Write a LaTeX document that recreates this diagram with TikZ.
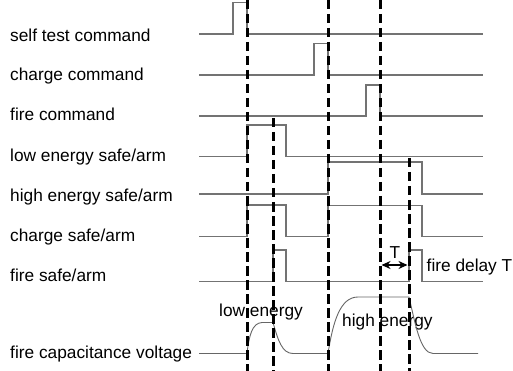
\documentclass[tikz,border=0pt]{standalone}
\usepackage{fontspec}
\setmainfont{Liberation Sans}
\usetikzlibrary{arrows.meta}
\begin{document}
\begin{tikzpicture}[x=1pt,y=-1pt,
  sig/.style={draw=black!55, line width=1.1pt},
  volt/.style={draw=black!60, line width=0.9pt},
  guide/.style={draw=black, line width=3pt, dash pattern=on 9.5pt off 4.5pt},
  lbl/.style={anchor=base west, inner sep=0pt, font=\fontsize{17.3}{20}\selectfont},
  tarrow/.style={{Stealth[length=9pt,width=8pt]}-{Stealth[length=9pt,width=8pt]}, line width=1.5pt}
  ]
\useasboundingbox (0,0) rectangle (513,371);

% left labels
\node[lbl] (l1) at (10,41.5) {self test command};
\node[lbl] (l2) at (10,80.5) {charge command};
\node[lbl] (l3) at (10,120.5) {fire command};
\node[lbl] (l4) at (10,161.5) {low energy safe/arm};
\node[lbl] (l5) at (10,201.5) {high energy safe/arm};
\node[lbl] (l6) at (10,241.5) {charge safe/arm};
\node[lbl] (l7) at (10,281) {fire safe/arm};
\node[lbl] (l8) at (10,358.5) {fire capacitance voltage};

% inner labels
\node[lbl] (low) at (219,316) {low energy};
\node[lbl] (high) at (342,326) {high energy};
\node[lbl] (delay) at (426.5,271.5) {fire delay T};

% signals
\draw[sig] (199,34) -- (233,34) -- (233,2.5) -- (247,2.5) -- (247,34) -- (483,34);
\draw[sig] (199,75) -- (314,75) -- (314,43.5) -- (328,43.5) -- (328,75) -- (483,75);
\draw[sig] (199,116) -- (366,116) -- (366,85) -- (380,85) -- (380,116) -- (483,116);
\draw[sig] (199,156.5) -- (247,156.5) -- (247,125) -- (286,125) -- (286,156.5) -- (483,156.5);
\draw[sig] (199,194) -- (328,194) -- (328,162) -- (422,162) -- (422,194) -- (483,194);
\draw[sig] (199,236.5) -- (247,236.5) -- (247,205) -- (286,205) -- (286,236.5)
  -- (328,236.5) -- (328,205.5) -- (422,205.5) -- (422,236.5) -- (483,236.5);
\draw[sig] (199,281.5) -- (273,281.5) -- (273,250) -- (286,250) -- (286,281.5)
  -- (409,281.5) -- (409,250) -- (422,250) -- (422,281.5) -- (483,281.5);

% capacitor voltage
\draw[volt] (199,353.5) -- (247,353.5)
  .. controls (249,336) and (252,323) .. (262,322.5) -- (273,322.5)
  .. controls (278,340) and (282,353.5) .. (293,353.5) -- (328,353.5)
  .. controls (333,322) and (340,297) .. (358,297) -- (409,297)
  .. controls (415,322) and (420,353.5) .. (433,353.5) -- (478,353.5);

% dashed guides
\coordinate (d1t) at (247,0);   \coordinate (d1b) at (247,371);
\coordinate (d2t) at (273,118); \coordinate (d2b) at (273,371);
\coordinate (d3t) at (328,0);   \coordinate (d3b) at (328,371);
\coordinate (d4t) at (380,0);   \coordinate (d4b) at (380,371);
\coordinate (d5t) at (409,158); \coordinate (d5b) at (409,371);
\draw[guide] (d1t) -- (d1b);
\draw[guide] (d2t) -- (d2b);
\draw[guide] (d3t) -- (d3b);
\draw[guide] (d4t) -- (d4b);
\draw[guide] (d5t) -- (d5b);

% delay arrow
\coordinate (ta) at (381.5,265);
\coordinate (tb) at (407.5,265);
\draw[tarrow] (ta) -- (tb);
\node[lbl, anchor=base] (tl) at (395,258.5) {T};
\end{tikzpicture}
\end{document}
